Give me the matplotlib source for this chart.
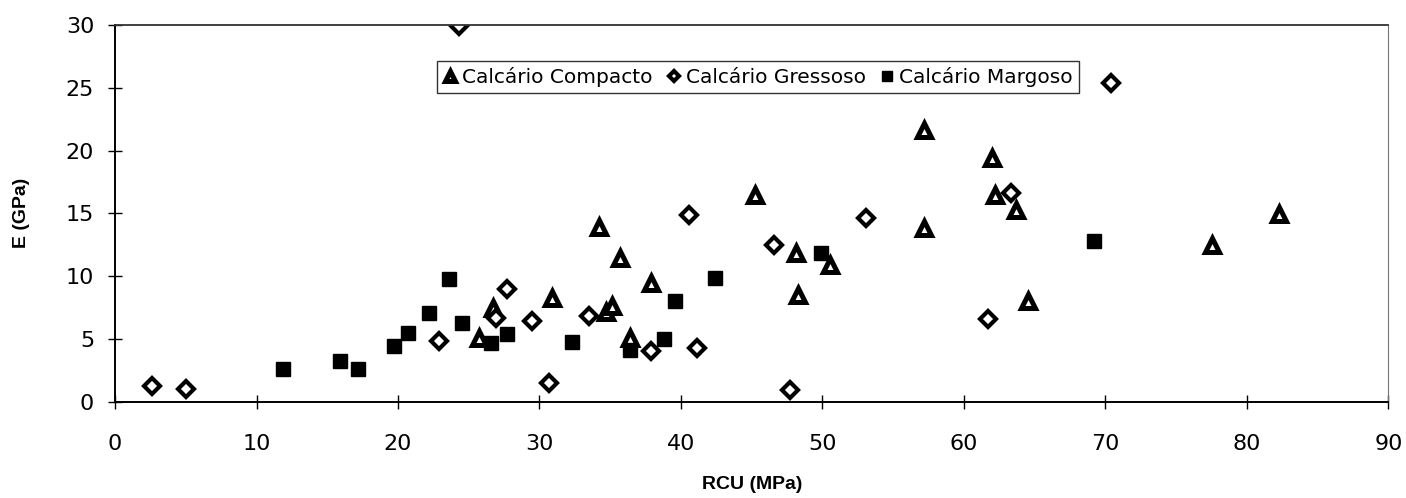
import numpy as np
import matplotlib
matplotlib.use("Agg")
import matplotlib.pyplot as plt

# Calcário Compacto (triangles)
compacto_rcu = [25.7, 26.7, 30.9, 34.2, 34.7, 35.1, 35.7, 36.4, 37.9, 45.2,
                48.1, 48.3, 50.5, 57.2, 57.2, 62.0, 62.2, 63.7, 64.5, 77.5, 82.3]
compacto_e = [5.05, 7.44, 8.28, 13.94, 7.17, 7.62, 11.47, 5.1, 9.48, 16.5,
              11.87, 8.5, 10.89, 21.6, 13.8, 19.38, 16.46, 15.3, 8.02, 12.48, 14.92]

# Calcário Gressoso (diamonds)
gressoso_rcu = [2.6, 5.0, 22.9, 24.3, 26.9, 27.7, 29.5, 30.7, 33.5, 37.9,
                40.6, 41.1, 46.6, 47.7, 53.1, 61.7, 63.3, 70.4]
gressoso_e = [1.25, 1.04, 4.8, 29.9, 6.7, 8.95, 6.45, 1.46, 6.83, 4.06,
              14.87, 4.25, 12.48, 0.93, 14.6, 6.56, 16.6, 25.4]

# Calcário Margoso (filled squares)
margoso_rcu = [11.9, 15.9, 17.2, 19.7, 20.7, 22.2, 23.6, 24.5, 26.6, 27.7,
               32.3, 36.4, 38.8, 39.6, 42.4, 49.9, 69.2]
margoso_e = [2.58, 3.27, 2.58, 4.44, 5.45, 7.09, 9.8, 6.3, 4.65, 5.37,
             4.78, 4.12, 4.97, 8.02, 9.88, 11.82, 12.83]

x_ticks = np.arange(0, 91, 10)
y_ticks = np.arange(0, 31, 5)

fig = plt.figure(figsize=(14.06, 4.98), dpi=100)
ax = fig.add_axes([0.0818, 0.1934, 0.9057, 0.7564])

ax.plot(compacto_rcu, compacto_e, linestyle='none', marker='^', markersize=10,
        markerfacecolor='white', markeredgecolor='black', markeredgewidth=3.6,
        label='Calcário Compacto')
ax.plot(gressoso_rcu, gressoso_e, linestyle='none', marker='D', markersize=8,
        markerfacecolor='white', markeredgecolor='black', markeredgewidth=3,
        label='Calcário Gressoso')
ax.plot(margoso_rcu, margoso_e, linestyle='none', marker='s', markersize=10.5,
        markerfacecolor='black', markeredgecolor='black',
        label='Calcário Margoso')

ax.set_xlim(0, 90)
ax.set_ylim(0, 30)
ax.set_xticks(x_ticks)
ax.set_yticks(y_ticks)
ax.tick_params(axis='both', direction='inout', length=10, width=1,
               labelsize=16, colors='black')
ax.tick_params(axis='x', pad=18)
ax.tick_params(axis='y', pad=10)

for side in ['left', 'bottom']:
    ax.spines[side].set_color('black')
    ax.spines[side].set_linewidth(1.4)
ax.spines['top'].set_color('#333333')
ax.spines['top'].set_linewidth(1.3)
ax.spines['right'].set_color('#777777')
ax.spines['right'].set_linewidth(0.8)

ax.set_xlabel('RCU (MPa)', fontsize=14, fontweight='bold',
              family='Liberation Sans', labelpad=16)
ax.set_ylabel('E (GPa)', fontsize=14, fontweight='bold',
              family='Liberation Sans', labelpad=26)

leg = ax.legend(loc='center', bbox_to_anchor=(0.505, 0.862), ncol=3,
                fontsize=14.5, frameon=True, fancybox=False, handlelength=0.7,
                handletextpad=0.25, columnspacing=0.7, borderpad=0.3,
                markerscale=0.7)
leg.get_frame().set_edgecolor('black')
leg.get_frame().set_linewidth(1.0)

fig.savefig('out.png', dpi=100)
